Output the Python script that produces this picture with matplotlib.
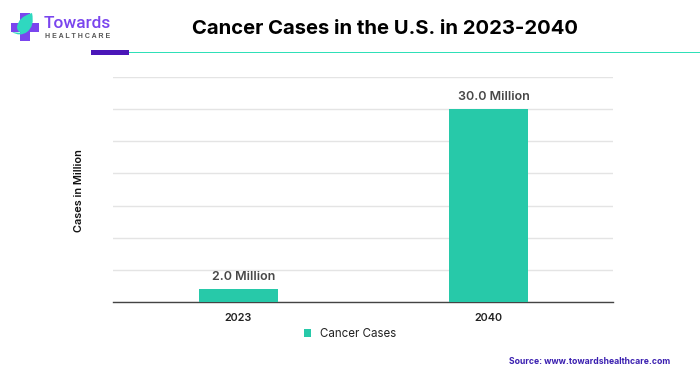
import matplotlib
matplotlib.use("Agg")
import matplotlib.pyplot as plt
from matplotlib.patches import Rectangle, PathPatch
from matplotlib.path import Path

plt.rcParams['font.family'] = ['Inter', 'Liberation Sans', 'DejaVu Sans']

years = ["2023", "2040"]
cases = [2.0, 30.0]
value_labels = ["2.0 Million", "30.0 Million"]
y_ticks = [0, 5, 10, 15, 20, 25, 30, 35]

W, H = 700, 376
fig = plt.figure(figsize=(W / 100, H / 100), dpi=100)

# background layer in pixel coordinates for header and logo
bg = fig.add_axes([0, 0, 1, 1])
bg.set_xlim(0, W)
bg.set_ylim(H, 0)
bg.axis("off")

bg.add_patch(Rectangle((91, 50), 38, 4.5, color="#4a16b8", lw=0))
bg.add_patch(Rectangle((129, 51.5), 571, 1.6, color="#2fe0b8", lw=0))

# logo
bg.add_patch(Rectangle((20, 13), 10, 28, color="#7a45ee", lw=0))
bg.add_patch(Rectangle((11, 22.5), 28, 9.5, color="#7a45ee", lw=0))
leaf = Path([(32, 13), (18, 17), (17, 27), (17, 31), (21, 33), (12, 32), (20, 37), (27, 32), (35, 26), (32, 13)],
            [Path.MOVETO, Path.CURVE3, Path.CURVE3, Path.CURVE3, Path.CURVE3, Path.LINETO,
             Path.CURVE3, Path.CURVE3, Path.CURVE3, Path.CURVE3])
bg.add_patch(PathPatch(leaf, facecolor="#2fd8c0", edgecolor="none"))
bg.text(44, 24, "Towards", fontsize=12.4, color="#7a45ee", va="center", ha="left", fontweight="medium",
        family=["Roboto", "DejaVu Sans"])
bg.text(45, 36, "H E A L T H C A R E", fontsize=5, color="#555555", va="center", ha="left", fontweight="bold",
        family=["Liberation Sans", "DejaVu Sans"])

bg.text(385.5, 29, "Cancer Cases in the U.S. in 2023-2040", fontsize=14.6, fontweight="bold",
        color="black", ha="center", va="center")

# chart
ax = fig.add_axes([113 / W, 1 - 302 / H, 500 / W, 225 / H])
ax.patch.set_alpha(0)
bars = ax.bar(years, cases, width=0.316, color="#27c9a9", label="Cancer Cases", zorder=3)
ax.set_xlim(-0.5, 1.5)
ax.set_ylim(0, 35)
ax.set_yticks(y_ticks)
ax.tick_params(axis="y", left=False, labelleft=False)
ax.tick_params(axis="x", bottom=False, labelsize=7.8, pad=4.2, labelcolor="#222222")
ax.grid(axis="y", color="#e4e4e4", lw=1, zorder=0)
for s in ["top", "right", "left"]:
    ax.spines[s].set_visible(False)
ax.spines["bottom"].set_color("#444444")
ax.spines["bottom"].set_linewidth(1)
for t in ax.get_xticklabels():
    t.set_fontweight("semibold")

for b, lab in zip(bars, value_labels):
    ax.annotate(lab, (b.get_x() + b.get_width() / 2, b.get_height()), xytext=(4, 4.3),
                textcoords="offset points", ha="center", va="bottom", fontsize=9,
                fontweight="semibold", color="#484848")

bg.text(79.5, 191, "Cases in Million", rotation=90, fontsize=7.9, fontweight="semibold",
        color="#111111", ha="center", va="center")

ax.legend(loc="center", bbox_to_anchor=(350 / W, 1 - 334 / H), bbox_transform=fig.transFigure,
          frameon=False, fontsize=8.3, handlelength=0.65, handleheight=0.8, handletextpad=0.75,
          labelcolor="#222222")

bg.text(670, 361, "Source: www.towardshealthcare.com", fontsize=6.2, fontweight="bold",
        color="#3a1fb0", ha="right", va="center")

fig.savefig("out.png", dpi=100)
